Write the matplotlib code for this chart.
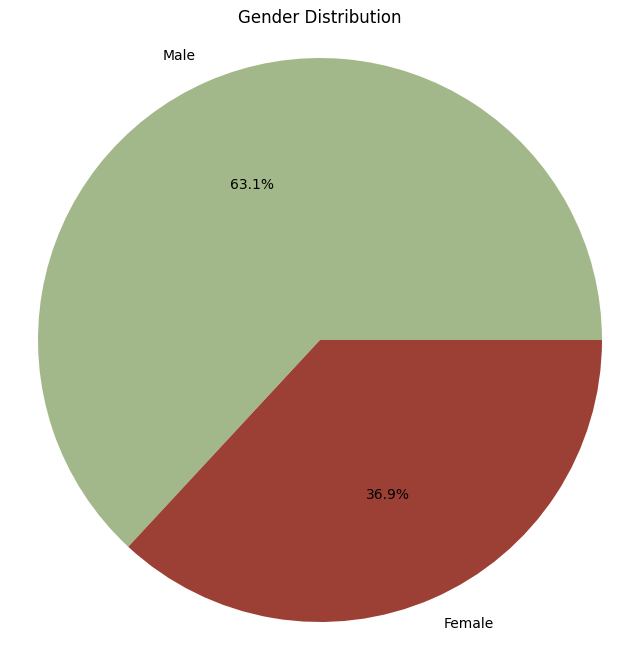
import matplotlib
matplotlib.use("Agg")
import matplotlib.pyplot as plt

labels = ['Male', 'Female']
shares = [63.1, 36.9]
colors = ['#a3b88a', '#9c4035']

fig = plt.figure(figsize=(6.4, 6.58), dpi=100)
ax = fig.add_axes([38 / 640, 36 / 658, 564 / 640, 564 / 658])

ax.pie(shares, labels=labels, colors=colors, autopct='%1.1f%%',
       textprops={'fontsize': 10})
ax.set_xlim(-1, 1)
ax.set_ylim(-1, 1)
ax.set_aspect('equal')

fig.text(0.5, 1 - 18 / 658, 'Gender Distribution', ha='center', va='center', fontsize=12)

fig.savefig('out.png', dpi=100)
